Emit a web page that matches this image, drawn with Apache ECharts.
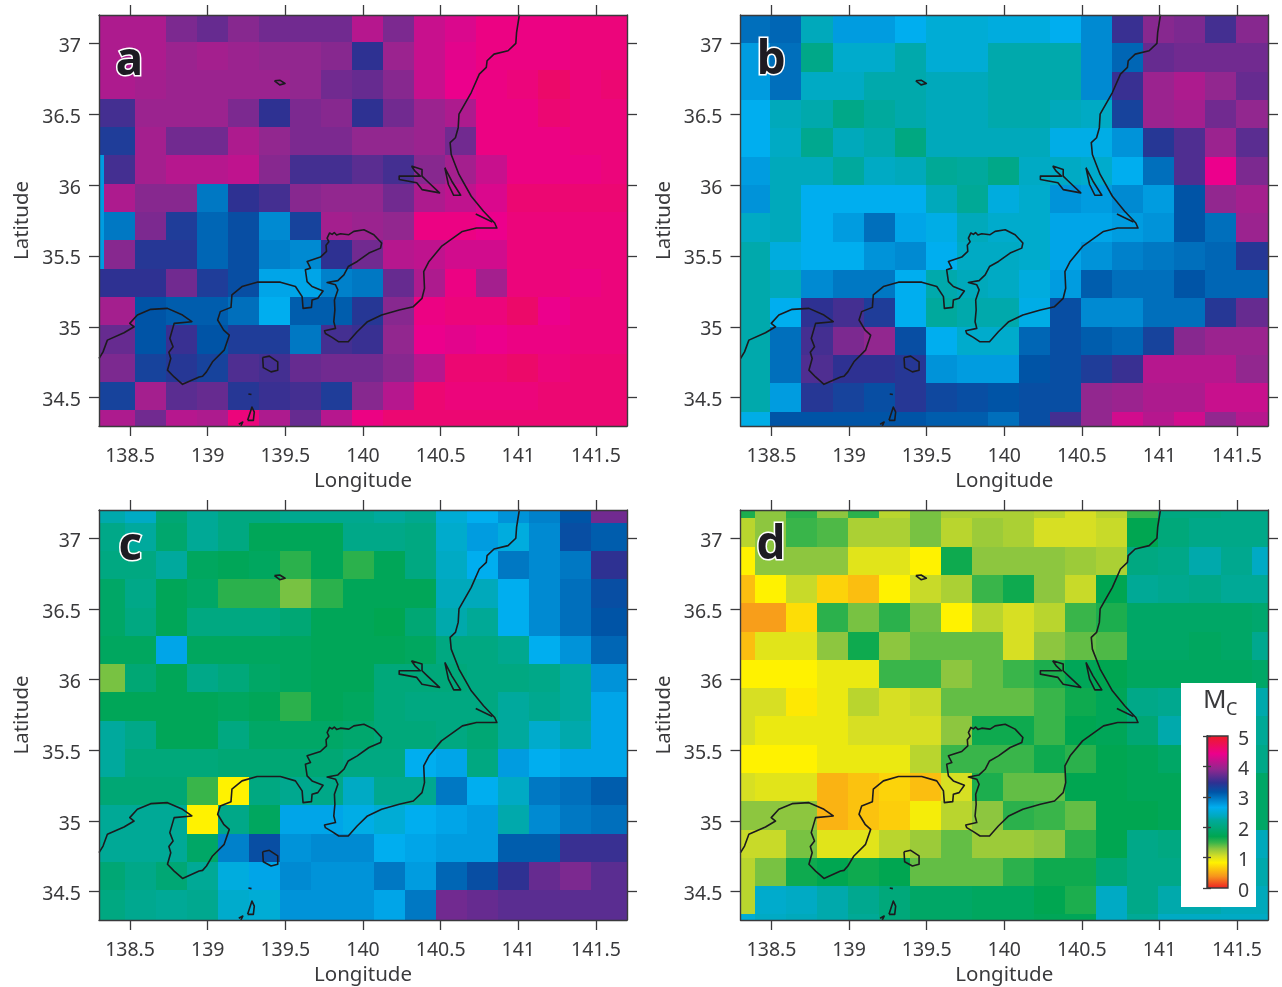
<!DOCTYPE html>
<html><head><meta charset="utf-8">
<style>html,body{margin:0;padding:0;background:#fff}#c{width:1282px;height:987px}</style>
<script src="https://cdn.jsdelivr.net/npm/echarts@6/dist/echarts.min.js"></script>
</head><body><div id="c"></div>
<script>
const lonTicks=[138.5,139,139.5,140,140.5,141,141.5];
const latTicks=[34.5,35,35.5,36,36.5,37];
const mcTicks=[0,1,2,3,4,5];
const lonRange=[138.3,141.7];
const latRange=[34.3,37.2];
const cellSize=0.2;
// value stops of the Mc colour scale
const scaleValues=[0,0.4,0.85,1.05,1.3,1.5,1.7,2.25,2.35,2.65,3.15,3.45,3.9,4.4,5];
const scaleColors=['#ed1c24','#f7941d','#fff200','#d7df23','#8dc63f','#39b54a','#00a651','#00a99d','#00a9bb','#00aeef','#0054a6','#2e3192','#92278f','#ec008c','#ed1c24'];
// first-cell west edge / north edge per panel (degrees)
const startA=[138.13,37.21], startB=[138.293,37.2], startC=[138.268,37.31], startD=[138.194,37.34];
const mcA=[
[4.05,4.05,4.05,3.8,3.7,3.85,3.75,3.75,3.75,4.1,3.8,4.2,4.3,4.45,4.45,4.45,4.5,4.5],
[4.05,4.05,4.05,3.95,4.0,3.95,3.9,3.9,3.85,3.45,3.95,4.2,4.35,4.45,4.45,4.45,4.5,4.5],
[4.05,4.05,4.0,3.95,3.95,3.95,3.95,3.9,3.75,3.7,3.85,4.2,4.4,4.45,4.5,4.6,4.5,4.55],
[3.55,3.55,3.95,3.95,3.95,3.8,3.45,3.8,3.85,3.45,3.75,3.95,4.05,4.45,4.45,4.55,4.5,4.5],
[3.35,3.35,4.0,3.75,3.75,4.05,3.9,3.8,3.8,3.9,3.9,3.95,3.75,4.45,4.45,4.45,4.5,4.5],
[2.75,3.55,4.0,4.1,4.1,4.15,3.85,3.55,3.55,3.65,3.55,3.85,4.0,4.2,4.45,4.45,4.45,4.5],
[2.75,4.05,3.85,3.85,2.95,3.45,3.55,3.85,3.9,3.9,3.75,4.05,4.15,4.3,4.55,4.55,4.55,4.55],
[2.75,2.95,3.8,3.35,3.05,3.2,2.85,3.3,4.0,3.95,3.9,4.45,4.45,4.4,4.5,4.5,4.5,4.5],
[2.75,3.85,3.4,3.4,3.05,3.2,2.9,2.85,3.45,3.75,4.1,4.15,4.25,4.25,4.5,4.5,4.5,4.5],
[3.45,3.45,3.45,3.75,3.35,3.2,2.7,2.7,2.9,2.95,3.7,4.05,4.45,4.0,4.5,4.5,4.45,4.5],
[4.0,4.0,3.15,3.1,3.1,3.0,2.65,3.1,3.1,3.4,3.85,4.45,4.5,4.5,4.6,4.4,4.5,4.5],
[3.7,3.7,3.15,3.5,3.15,3.35,3.35,2.95,3.55,3.5,3.9,4.4,4.35,4.4,4.45,4.45,4.5,4.5],
[3.8,3.8,3.3,3.4,3.3,3.6,3.55,3.7,3.75,3.75,3.85,4.1,4.55,4.55,4.6,4.5,4.55,4.55],
[3.3,3.3,4.0,3.65,3.7,3.4,3.5,3.55,3.35,3.85,4.1,4.55,4.5,4.5,4.5,4.55,4.55,4.55],
[4.05,4.05,3.75,4.1,4.05,4.5,4.05,3.7,4.1,4.45,4.55,4.55,4.55,4.55,4.55,4.55,4.55,4.55]];
const mcB=[
[3.0,3.05,2.35,2.75,2.75,2.65,2.5,2.5,2.55,2.55,2.65,2.85,3.5,3.85,3.8,3.55,3.85],
[2.75,3.0,2.1,2.45,2.45,2.3,2.5,2.5,2.3,2.3,2.3,2.85,3.05,3.7,3.75,3.75,3.75],
[2.75,3.0,2.4,2.4,2.3,2.3,2.35,2.35,2.3,2.3,2.3,2.85,3.5,3.95,4.05,3.9,3.7],
[2.65,2.35,2.3,2.1,2.25,2.3,2.35,2.35,2.3,2.3,2.35,2.4,3.3,3.95,4.0,3.75,3.9],
[2.65,2.4,2.15,2.35,2.3,2.05,2.35,2.35,2.35,2.35,2.6,2.6,2.8,3.4,3.6,3.95,3.65],
[2.75,2.35,2.35,2.25,2.4,2.35,2.2,2.25,2.1,2.4,2.4,2.45,2.65,3.0,3.6,4.4,3.8],
[2.8,2.35,2.65,2.65,2.65,2.65,2.35,2.2,2.55,2.45,2.8,2.75,2.85,2.75,3.15,3.9,4.0],
[2.4,2.35,2.65,2.75,3.0,2.7,2.6,2.35,2.45,2.45,2.7,2.7,2.75,2.8,3.15,3.0,3.95],
[2.3,2.55,2.65,2.65,2.8,2.85,2.65,2.4,2.4,2.45,2.7,2.8,2.9,2.95,3.0,3.05,3.4],
[2.3,2.35,2.85,2.95,2.95,2.65,2.3,2.35,2.4,2.55,2.75,3.1,3.0,3.0,3.15,3.05,3.05],
[2.3,2.65,3.45,3.55,3.35,2.65,2.25,2.3,2.3,2.6,3.2,2.85,2.85,3.0,3.0,3.4,3.7],
[2.3,3.0,3.55,3.8,3.9,3.2,2.65,2.45,2.45,3.05,3.2,3.1,3.05,3.3,3.85,3.95,3.95],
[2.3,3.0,3.6,3.45,3.45,3.4,2.8,2.75,2.75,3.15,3.2,3.35,3.5,4.1,4.1,4.1,3.9],
[2.3,2.75,3.4,3.3,3.2,3.4,3.25,3.2,3.15,3.2,3.2,3.9,3.95,4.05,4.05,4.2,4.2],
[2.6,3.15,3.15,3.15,3.15,3.15,3.1,3.1,3.0,3.2,3.55,3.9,4.25,4.1,4.25,3.9,4.1]];
const mcC=[
[2.3,2.4,1.95,2.2,2.05,2.05,2.15,2.15,2.15,2.25,2.15,2.5,2.65,2.8,2.9,3.15,3.75],
[2.1,2.25,1.9,2.2,2.05,1.75,1.75,1.75,2.1,2.1,2.05,2.45,2.75,2.55,2.85,3.2,3.1],
[2.05,2.05,2.25,1.8,1.75,1.8,1.55,1.75,1.55,1.75,2.05,2.4,2.65,2.95,2.85,2.95,3.45],
[1.85,2.1,1.75,1.85,1.55,1.55,1.35,1.55,1.75,1.75,1.75,2.35,2.35,2.65,2.85,3.0,3.2],
[1.85,2.05,1.75,2.05,2.05,2.05,1.95,1.75,1.75,1.7,1.95,2.3,2.2,2.65,2.85,3.0,3.15],
[1.8,1.8,2.7,1.8,1.8,1.8,1.8,1.75,1.75,1.75,1.8,2.05,2.05,2.15,2.65,2.8,3.05],
[1.35,1.95,1.75,2.1,2.0,1.85,1.8,1.75,1.75,2.0,2.0,2.0,2.05,2.05,2.1,2.25,2.8],
[1.75,1.75,1.75,1.75,1.8,1.75,1.55,1.75,1.8,2.0,2.05,2.05,2.05,2.25,2.15,2.25,2.7],
[2.25,2.1,1.75,1.75,2.05,1.85,1.85,1.85,1.9,2.0,2.0,2.05,1.95,2.25,2.45,2.3,2.7],
[2.25,2.0,2.0,2.0,1.95,1.95,1.95,1.95,2.05,2.05,2.65,2.7,2.05,2.75,2.65,2.7,2.7],
[1.95,1.95,1.95,1.5,0.85,2.05,2.15,2.1,2.4,2.15,2.15,2.95,2.65,2.4,2.95,3.0,3.1],
[2.2,2.2,2.2,0.85,2.1,1.8,2.7,2.7,2.6,2.5,2.65,2.7,2.75,2.3,2.85,2.95,3.0],
[2.2,2.2,2.2,1.85,2.9,3.2,2.8,2.85,2.85,2.65,2.7,2.75,2.75,3.1,3.1,3.5,3.5],
[1.95,2.1,1.95,2.2,2.55,2.7,2.85,2.8,2.8,2.95,2.75,3.05,3.2,3.45,3.7,3.8,3.65],
[2.05,2.15,2.2,2.15,2.45,2.5,2.8,2.8,2.8,2.7,2.95,3.75,3.7,3.65,3.65,3.65,3.65]];
const mcD=[
[1.6,1.3,1.55,1.3,1.55,1.15,1.35,1.2,1.2,1.2,1.15,1.05,1.15,1.5,2.05,2.05,2.1,2.1],
[1.15,1.3,1.5,1.45,1.2,1.2,1.35,1.15,1.25,1.2,1.05,1.05,1.1,1.7,2.0,2.1,2.1,2.1],
[0.85,1.3,1.3,1.3,1.0,1.0,0.85,1.65,1.3,1.3,1.3,1.25,1.2,2.05,2.1,2.3,2.15,2.4],
[0.6,0.85,1.1,0.7,0.6,0.85,1.1,1.2,1.5,1.65,1.3,1.1,1.7,2.2,2.15,2.1,2.2,2.2],
[0.45,0.45,0.75,1.55,1.35,1.55,1.35,0.85,1.15,1.05,1.15,1.5,1.6,1.85,1.85,1.85,1.85,1.9],
[0.6,1.0,1.0,1.3,1.65,1.3,1.4,1.4,1.4,1.05,1.3,1.4,1.45,1.85,1.85,1.8,1.85,2.15],
[0.85,0.85,0.85,0.95,0.95,1.5,1.5,1.3,1.4,1.5,1.6,1.75,1.7,1.8,1.8,1.8,1.8,1.85],
[1.05,1.05,0.8,0.95,1.15,1.05,1.1,1.4,1.4,1.4,1.5,1.65,1.75,2.1,2.15,2.1,2.1,2.3],
[1.05,0.95,0.95,0.95,1.05,1.05,1.05,1.3,1.65,1.65,1.5,1.7,1.75,1.95,2.3,2.1,2.1,2.2],
[0.85,0.85,0.85,0.95,0.95,0.95,1.15,1.5,1.5,1.5,1.65,1.55,1.7,1.75,1.85,1.85,1.85,2.1],
[1.05,1.0,1.0,0.55,0.62,0.7,0.6,1.05,1.6,1.4,1.4,1.7,1.7,1.75,1.75,1.8,1.8,1.85],
[1.3,1.3,1.3,0.55,0.62,0.68,0.9,1.15,1.3,1.55,1.5,1.4,1.7,1.7,1.75,1.75,1.8,1.85],
[1.1,1.1,1.35,1.0,1.0,1.15,1.25,1.4,1.25,1.25,1.3,1.55,1.7,2.1,2.05,2.1,2.15,2.35],
[1.15,1.35,1.65,1.7,1.65,1.7,1.4,1.4,1.4,1.55,1.65,1.65,1.95,2.1,2.1,2.1,2.15,2.3],
[1.15,2.45,2.4,2.3,2.15,2.0,1.85,1.85,1.8,1.8,1.7,1.6,2.4,2.1,2.3,2.3,2.35,2.35],
[2.5,2.4,2.35,2.3,2.2,2.0,1.85,1.85,1.8,1.8,1.75,1.75,2.4,2.2,2.4,2.4,2.4,2.4]];
// coastline traces, [lon,lat]
const coastMain=[[141.007,37.203],[140.989,37.078],[140.984,37.0],[140.934,36.948],[140.844,36.924],[140.799,36.877],[140.794,36.83],[140.749,36.783],[140.697,36.653],[140.618,36.5],[140.613,36.405],[140.595,36.334],[140.561,36.299],[140.568,36.216],[140.618,36.075],[140.697,35.921],[140.776,35.815],[140.848,35.732],[140.862,35.697],[140.731,35.697],[140.64,35.673],[140.505,35.567],[140.425,35.461],[140.391,35.39],[140.396,35.272],[140.38,35.201],[140.324,35.142],[140.233,35.119],[140.12,35.083],[140.029,35.036],[139.962,34.965],[139.905,34.894],[139.844,34.894],[139.801,34.925],[139.758,34.953],[139.752,34.972],[139.823,34.989],[139.812,35.036],[139.819,35.119],[139.816,35.189],[139.838,35.26],[139.823,35.296],[139.769,35.312],[139.838,35.326],[139.877,35.366],[139.905,35.425],[139.963,35.461],[140.038,35.52],[140.113,35.555],[140.12,35.591],[140.07,35.65],[140.006,35.685],[139.941,35.673],[139.909,35.65],[139.855,35.657],[139.83,35.648],[139.815,35.665],[139.801,35.652],[139.785,35.662],[139.769,35.626],[139.78,35.6],[139.762,35.575],[139.765,35.532],[139.726,35.492],[139.64,35.461],[139.662,35.414],[139.629,35.402],[139.64,35.319],[139.672,35.284],[139.743,35.253],[139.709,35.201],[139.672,35.189],[139.668,35.137],[139.614,35.13],[139.608,35.213],[139.565,35.284],[139.468,35.315],[139.318,35.315],[139.221,35.284],[139.156,35.225],[139.15,35.137],[139.081,35.107],[139.064,35.048],[139.103,34.977],[139.139,34.941],[139.106,34.835],[139.031,34.753],[138.992,34.682],[138.967,34.651],[138.945,34.646],[138.838,34.594],[138.784,34.646],[138.741,34.694],[138.762,34.776],[138.75,34.82],[138.777,34.859],[138.756,34.918],[138.784,35.024],[138.898,35.036],[138.838,35.083],[138.741,35.13],[138.633,35.123],[138.547,35.083],[138.498,35.024],[138.526,35.0],[138.461,34.958],[138.354,34.906],[138.326,34.823],[138.3,34.776]];
const lakeKasumi=[[140.312,36.134],[140.38,36.11],[140.38,36.063],[140.414,36.027],[140.493,35.945],[140.482,35.933],[140.38,35.968],[140.346,36.016],[140.233,36.039],[140.233,36.063],[140.369,36.063],[140.335,36.098],[140.312,36.134]];
const lakeKita=[[140.527,36.122],[140.572,36.027],[140.629,35.928],[140.584,35.928],[140.55,36.004],[140.527,36.122]];
const riverTone=[[140.726,35.796],[140.833,35.739]];
const isleOshima=[[139.354,34.783],[139.397,34.793],[139.451,34.753],[139.451,34.694],[139.408,34.682],[139.358,34.712],[139.354,34.783]];
const lakeNorth=[[139.43,36.736],[139.464,36.74],[139.498,36.717],[139.464,36.707],[139.43,36.736]];
const isleNii=[[139.257,34.34],[139.285,34.434],[139.3,34.398],[139.294,34.34],[139.257,34.34]];
const isleTiny1=[[139.2,34.312],[139.226,34.328],[139.214,34.30]];
const isleTiny2=[[139.262,34.526],[139.282,34.522]];
const coastTraces=[coastMain,lakeKasumi,lakeKita,riverTone,isleOshima,lakeNorth,isleNii,isleTiny1,isleTiny2];
const panels=[
 {name:'a',rows:mcA,start:startA,left:99,top:15,width:528,height:411,lx:130,ly:68},
 {name:'b',rows:mcB,start:startB,left:740.5,top:15,width:527.5,height:411,lx:771,ly:67},
 {name:'c',rows:mcC,start:startC,left:99,top:510,width:528,height:410,lx:133,ly:553},
 {name:'d',rows:mcD,start:startD,left:740.5,top:510,width:527.5,height:410,lx:771,ly:552}];
const INK='#3a3a3c', FONT='"Noto Sans","Open Sans",sans-serif';
function hex(c){return [1,3,5].map(i=>parseInt(c.substr(i,2),16));}
function colorFor(v){
 for(let i=1;i<scaleValues.length;i++){ if(v<=scaleValues[i]){
  const t=(v-scaleValues[i-1])/(scaleValues[i]-scaleValues[i-1]),a=hex(scaleColors[i-1]),b=hex(scaleColors[i]);
  return 'rgb('+a.map((x,k)=>Math.round(x+(b[k]-x)*t)).join(',')+')';}}
 return scaleColors[scaleColors.length-1];
}
const clamp=(v,r)=>Math.min(r[1],Math.max(r[0],v));
const tickText={color:INK,fontFamily:FONT,fontSize:19.5};
const grids=[],xAxes=[],yAxes=[],series=[],graphics=[];
panels.forEach((p,pi)=>{
 grids.push({left:p.left,top:p.top,width:p.width,height:p.height,show:false});
 const tick=vals=>({show:true,customValues:vals,length:10,inside:false,lineStyle:{color:INK,width:1.3}});
 const line={show:true,lineStyle:{color:INK,width:1.4}};
 const xi=xAxes.length, yi=yAxes.length;
 xAxes.push({type:'value',gridIndex:pi,position:'bottom',min:lonRange[0],max:lonRange[1],z:6,splitLine:{show:false},axisLine:line,axisTick:tick(lonTicks),
  axisLabel:{customValues:lonTicks,formatter:v=>String(v),color:INK,fontFamily:FONT,fontSize:19.5,margin:20,hideOverlap:false},
  name:'Longitude',nameLocation:'middle',nameGap:45,nameTextStyle:{color:INK,fontFamily:FONT,fontSize:20.5}});
 xAxes.push({type:'value',gridIndex:pi,position:'top',min:lonRange[0],max:lonRange[1],z:6,splitLine:{show:false},axisLine:line,axisTick:tick(lonTicks),axisLabel:{show:false}});
 yAxes.push({type:'value',gridIndex:pi,position:'left',min:latRange[0],max:latRange[1],z:6,splitLine:{show:false},axisLine:line,axisTick:tick(latTicks),
  axisLabel:{customValues:latTicks,formatter:v=>'{t|'+v+'}',margin:18,rich:{t:Object.assign({padding:[6,0,0,0]},tickText)}},
  name:'Latitude',nameLocation:'middle',nameGap:66,nameTextStyle:{color:INK,fontFamily:FONT,fontSize:20.5}});
 yAxes.push({type:'value',gridIndex:pi,position:'right',min:latRange[0],max:latRange[1],z:6,splitLine:{show:false},axisLine:line,axisTick:tick(latTicks),axisLabel:{show:false}});
 const cells=[];
 p.rows.forEach((row,r)=>row.forEach((v,c)=>{
  cells.push([p.start[0]+cellSize*c,p.start[1]-cellSize*r,v,c===row.length-1?1:0,r===p.rows.length-1?1:0]);}));
 series.push({type:'custom',xAxisIndex:xi,yAxisIndex:yi,data:cells,silent:true,z:2,clip:true,animation:false,
  renderItem:(params,api)=>{
   const w=api.value(0),n=api.value(1);
   const e=api.value(3)?lonRange[1]:w+cellSize, s=api.value(4)?latRange[0]:n-cellSize;
   const a=api.coord([clamp(w,lonRange),clamp(n,latRange)]),b=api.coord([clamp(e,lonRange),clamp(s,latRange)]);
   const x0=Math.round(a[0]),y0=Math.round(a[1]),x1=Math.round(b[0]),y1=Math.round(b[1]);
   if(x1<=x0||y1<=y0)return null;
   return {type:'rect',shape:{x:x0,y:y0,width:x1-x0,height:y1-y0},style:{fill:colorFor(api.value(2))}};
  },encode:{x:0,y:1}});
 coastTraces.forEach(tr=>series.push({type:'line',xAxisIndex:xi,yAxisIndex:yi,data:tr,showSymbol:false,silent:true,z:3,clip:true,animation:false,
  lineStyle:{color:'#1c1a1e',width:1.6,join:'round'}}));
 graphics.push({type:'text',z:20,left:p.lx-16,top:p.ly-31,style:{text:p.name,font:'700 46px "Open Sans",sans-serif',fill:'#1d1b22',stroke:'#fff',lineWidth:3}});
});
// colour bar legend in panel d
const g=grids.length;
graphics.push({type:'rect',z:4,shape:{x:1181,y:683,width:75,height:224},style:{fill:'#fff'}});
grids.push({left:1207,top:736,width:21,height:152,show:false,z:10});
const barAxis=(pos,lab)=>({type:'value',gridIndex:g,position:pos,min:mcTicks[0],max:mcTicks[5],interval:1,z:12,splitLine:{show:false},
 axisLine:{show:true,lineStyle:{color:INK,width:1.3}},axisTick:{show:true,length:4,lineStyle:{color:INK,width:1.3}},
 axisLabel:lab?{show:true,margin:10,formatter:v=>'{t|'+v+'}',rich:{t:Object.assign({padding:[6,0,0,0]},tickText)}}:{show:false}});
xAxes.push({type:'value',gridIndex:g,min:0,max:1,show:false});
const bi=xAxes.length-1, yb=yAxes.length;
yAxes.push(barAxis('right',true));yAxes.push(barAxis('left',false));
series.push({type:'custom',xAxisIndex:bi,yAxisIndex:yb,data:[[0,5,1,0]],silent:true,z:11,clip:false,animation:false,
 renderItem:(params,api)=>{
  const a=api.coord([api.value(0),api.value(1)]),b=api.coord([api.value(2),api.value(3)]);
  const stops=scaleValues.map((v,i)=>({offset:1-v/5,color:scaleColors[i]})).reverse();
  return {type:'rect',shape:{x:a[0],y:a[1],width:b[0]-a[0],height:b[1]-a[1]},
   style:{fill:new echarts.graphic.LinearGradient(0,0,0,1,stops),stroke:INK,lineWidth:1.3}};
 },encode:{x:[0,2],y:[1,3]}});
graphics.push({type:'text',z:21,left:1203,top:688,style:{text:'M',font:'26px '+FONT,fill:INK}});
graphics.push({type:'text',z:21,left:1226,top:701,style:{text:'C',font:'18px '+FONT,fill:INK}});
const chart=echarts.init(document.getElementById('c'),null,{renderer:'canvas'});
chart.setOption({animation:false,backgroundColor:'#fff',grid:grids,xAxis:xAxes,yAxis:yAxes,series:series,graphic:graphics});
</script></body></html>
